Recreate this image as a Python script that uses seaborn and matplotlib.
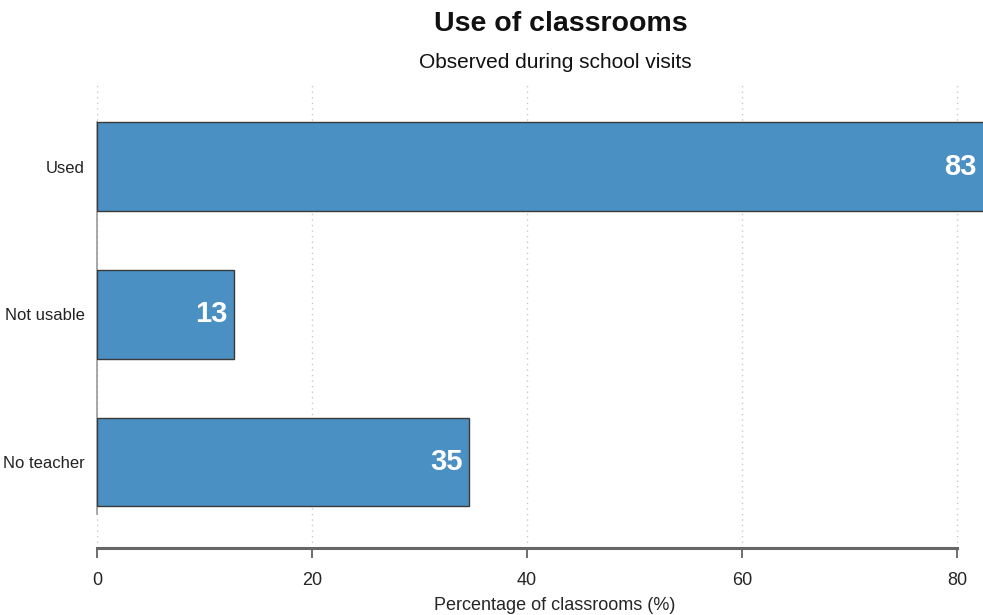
import matplotlib
matplotlib.use("Agg")
import matplotlib.pyplot as plt
import seaborn as sns
import pandas as pd
from matplotlib import font_manager

categories = ["Used", "Not usable", "No teacher"]
values = [82.7, 12.7, 34.6]
labels = ["83", "13", "35"]
xticks = [0, 20, 40, 60, 80]

sns.set_theme(style="white")
names = {f.name for f in font_manager.fontManager.ttflist}
fam = "Liberation Sans Narrow" if "Liberation Sans Narrow" in names else "Liberation Sans"
plt.rcParams['font.family'] = [fam, 'DejaVu Sans']

W, H = 983, 615
fig = plt.figure(figsize=(W/100, H/100), dpi=100)
ax = fig.add_axes([97/W, (H-548)/H, (983-97)/W, (548-85)/H])

df = pd.DataFrame({"cat": categories, "val": values})
sns.barplot(data=df, y="cat", x="val", orient="h", color="#4a90c2", saturation=1,
            width=0.6, edgecolor="#3a3a3a", linewidth=1.0, ax=ax, zorder=3)

ax.set_xlim(0, 82.4)
ax.set_ylim(2.582, -0.552)
ax.set_xticks(xticks)
ax.set_xticklabels([str(t) for t in xticks], fontsize=13)
ax.tick_params(axis='x', length=7, width=1.2, color="#555555", pad=10, direction='out', bottom=True)
ax.tick_params(axis='y', length=0, pad=9, labelsize=12)
for lab in ax.get_yticklabels():
    lab.set_color("#222222")
ax.xaxis.grid(True, linestyle=(0, (1, 3)), color="#c8c8c8", linewidth=1.0, zorder=0)
ax.yaxis.grid(False)
for s in ["top", "right"]:
    ax.spines[s].set_visible(False)
ax.spines["bottom"].set_bounds(0, 80)
ax.spines["bottom"].set_linewidth(2.2)
ax.spines["bottom"].set_color("#666666")
ax.spines["left"].set_bounds(-0.3, 2.35)
ax.spines["left"].set_color("#999999")
ax.spines["left"].set_linewidth(1.2)
ax.set_ylabel("")
ax.set_xlabel("Percentage of classrooms (%)", fontsize=13, labelpad=6, x=(555-97)/(983-97))

for i, (v, t) in enumerate(zip(values, labels)):
    ax.text(min(v, 82.4) - 0.6, i, t, ha="right", va="center", color="white",
            fontsize=21, fontweight="bold", zorder=5)

fig.text(561/W, 1 - 24/H, "Use of classrooms", ha="center", va="center",
         fontsize=20.5, fontweight="bold", color="#111111")
fig.text(555/W, 1 - 62/H, "Observed during school visits", ha="center", va="center",
         fontsize=15, color="#111111")

fig.savefig("out.png", dpi=100)
